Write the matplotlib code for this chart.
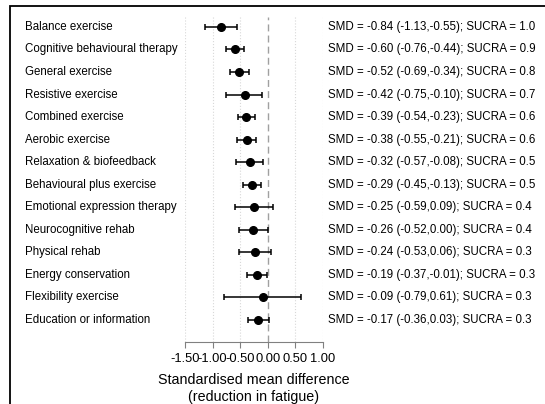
import matplotlib.pyplot as plt
import matplotlib.transforms as mtransforms

plt.rcParams['font.family'] = ['Liberation Sans', 'DejaVu Sans']

## treatments, top to bottom
names = ["Balance exercise", "Cognitive behavioural therapy", "General exercise",
         "Resistive exercise", "Combined exercise", "Aerobic exercise",
         "Relaxation & biofeedback", "Behavioural plus exercise",
         "Emotional expression therapy", "Neurocognitive rehab", "Physical rehab",
         "Energy conservation", "Flexibility exercise", "Education or information"]
smd = [-0.84, -0.60, -0.52, -0.42, -0.39, -0.38, -0.32, -0.29,
       -0.25, -0.26, -0.24, -0.19, -0.09, -0.17]
lo = [-1.13, -0.76, -0.69, -0.75, -0.54, -0.55, -0.57, -0.45,
      -0.59, -0.52, -0.53, -0.37, -0.79, -0.36]
hi = [-0.55, -0.44, -0.34, -0.10, -0.23, -0.21, -0.08, -0.13,
      0.09, 0.00, 0.06, -0.01, 0.61, 0.03]
sucra = [1.0, 0.9, 0.8, 0.7, 0.6, 0.6, 0.5, 0.5, 0.4, 0.4, 0.3, 0.3, 0.3, 0.3]
ticks = [-1.5, -1.0, -0.5, 0.0, 0.5, 1.0]

W, H = 545, 404
fig = plt.figure(figsize=(W / 100, H / 100), dpi=100)

## frame round the whole figure (right/bottom edges run off the picture)
fig.patches.append(plt.Rectangle((10 / W, -0.1), 1.2, 1 - 6 / H + 0.1,
                                 transform=fig.transFigure, fill=False,
                                 edgecolor="black", linewidth=1.3))

ax = fig.add_axes([185 / W, 1 - 342 / H, 138 / W, (342 - 17) / H])
rows = list(range(len(names)))

for x in ticks:
    if x != 0:
        ax.axvline(x, color="#d8d8d8", linestyle=":", linewidth=0.8, zorder=0)
ax.axvline(0, color="#a0a0a0", linestyle=(0, (5, 3)), linewidth=1.0, zorder=1)

err = [[m - l for m, l in zip(smd, lo)], [h - m for m, h in zip(smd, hi)]]
ax.errorbar(smd, rows, xerr=err, fmt="o", color="black", markersize=5.5,
            elinewidth=1.1, capsize=2.5, capthick=1.1, zorder=3)

ax.set_xlim(-1.5, 1.0)
ax.set_ylim(len(names) - 1 + 0.98, -0.44)
ax.set_xticks(ticks)
ax.set_xticklabels(["%.2f" % t for t in ticks], fontsize=9.3)
ax.set_yticks([])
for s in ["top", "right", "left"]:
    ax.spines[s].set_visible(False)
ax.spines["bottom"].set_color("#808080")
ax.tick_params(axis="x", length=4, color="#808080", pad=4)
ax.set_xlabel("Standardised mean difference\n(reduction in fatigue)",
              fontsize=10.3, linespacing=1.2, labelpad=6)

trans = mtransforms.blended_transform_factory(fig.transFigure, ax.transData)
for i, name in enumerate(names):
    ax.text(25 / W, i, name, transform=trans, ha="left", va="center",
            fontsize=8.3, clip_on=False)
    ax.text(328 / W, i, "SMD = %.2f (%.2f,%.2f); SUCRA = %.1f"
            % (smd[i], lo[i], hi[i], sucra[i]),
            transform=trans, ha="left", va="center", fontsize=8.3, clip_on=False)

fig.savefig("out.png", dpi=100)
